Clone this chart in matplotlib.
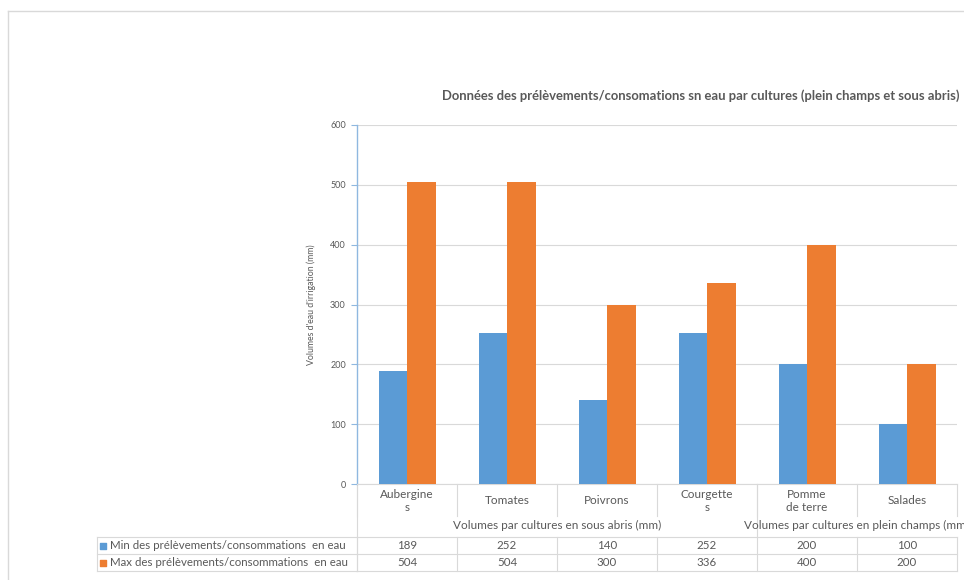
import matplotlib
matplotlib.use("Agg")
import matplotlib.pyplot as plt
import matplotlib.transforms as mtransforms
import numpy as np

plt.rcParams['font.family'] = ['Lato', 'DejaVu Sans']

# data
cultures = ['Aubergine\ns', 'Tomates', 'Poivrons', 'Courgette\ns', 'Pomme\nde terre', 'Salades']
groupes = ['Volumes par cultures en sous abris (mm)', 'Volumes par cultures en plein champs (mm)']
groupe_taille = [4, 2]
min_eau = [189, 252, 140, 252, 200, 100]
max_eau = [504, 504, 300, 336, 400, 200]
series = ['Min des prélèvements/consommations  en eau', 'Max des prélèvements/consommations  en eau']

BLUE = '#5B9BD5'
ORANGE = '#ED7D31'
GRID = '#D9D9D9'
TXT = '#595959'

W, H = 964, 580
fig = plt.figure(figsize=(W / 100, H / 100), dpi=100)

# overlay in pixel coords for frame / table
over = fig.add_axes([0, 0, 1, 1])
over.set_xlim(0, W)
over.set_ylim(H, 0)
over.axis('off')

# main plot area (pixels 357..957 x, 125..484 y)
ax = fig.add_axes([357 / W, (H - 484) / H, 600 / W, 359 / H])
x = np.arange(len(cultures)) + 0.5
bw = 0.285
ax.bar(x - bw / 2, min_eau, bw, color=BLUE, zorder=3)
ax.bar(x + bw / 2, max_eau, bw, color=ORANGE, zorder=3)
ax.set_xlim(0, len(cultures))
ax.set_ylim(0, 600)
ax.set_yticks(np.arange(0, 601, 100))
ax.yaxis.grid(True, color=GRID, lw=0.8, zorder=0)
ax.set_xticks([])
for s in ['top', 'right']:
    ax.spines[s].set_visible(False)
ax.spines['left'].set_color('#8FB8E0')
ax.spines['left'].set_linewidth(1.0)
ax.spines['bottom'].set_color(GRID)
ax.spines['bottom'].set_linewidth(0.8)
ax.tick_params(axis='y', colors='#8FB8E0', length=4, width=0.8, labelsize=6.5, labelcolor=TXT, pad=4)
ax.set_ylabel("Volumes d'eau d'irrigation (mm)", fontsize=6.3, color=TXT, labelpad=10)
ax.set_facecolor('none')

ax.set_title('Données des prélèvements/consomations sn eau par cultures (plein champs et sous abris)',
             fontsize=9.4, fontweight='bold', color=TXT, x=0.573, y=1.0, pad=18, clip_on=False)

# frame around chart
over.plot([8, 8], [11, H], color=GRID, lw=1)
over.plot([8, 963], [11, 11], color=GRID, lw=1)

# category labels, group labels and data table
tr = mtransforms.blended_transform_factory(ax.transData, over.transData)
lk = dict(color=GRID, lw=0.8, transform=tr, clip_on=False)
n = len(cultures)
for i in range(n + 1):
    over.plot([i, i], [484, 516], **lk)
over.plot([0, 0], [484, 571], **lk)
over.plot([4, 4], [484, 537], **lk)
for i, c in enumerate(cultures):
    over.text(x[i], 501, c, ha='center', va='center', fontsize=8.5, color=TXT,
              transform=tr, linespacing=1.25)

start = 0
for g, t in zip(groupes, groupe_taille):
    over.text(start + t / 2, 525, g, ha='center', va='center', fontsize=8.5, color=TXT,
              transform=tr, clip_on=False)
    start += t

# table grid
for yy in [537, 554, 571]:
    over.plot([97, 357], [yy, yy], color=GRID, lw=0.8)
    over.plot([0, n], [yy, yy], **lk)
over.plot([97, 97], [537, 571], color=GRID, lw=0.8)
for i in range(n + 1):
    over.plot([i, i], [537, 571], **lk)

for row, (vals, name, col) in enumerate(zip([min_eau, max_eau], series, [BLUE, ORANGE])):
    yc = 545.5 + row * 17
    over.scatter([103], [yc], marker='s', s=18, color=col, zorder=4)
    over.text(110, yc, name, ha='left', va='center', fontsize=8.3, color=TXT)
    for i, v in enumerate(vals):
        over.text(x[i], yc, str(v), ha='center', va='center', fontsize=8.3, color=TXT, transform=tr)

fig.savefig('out.png', dpi=100)
